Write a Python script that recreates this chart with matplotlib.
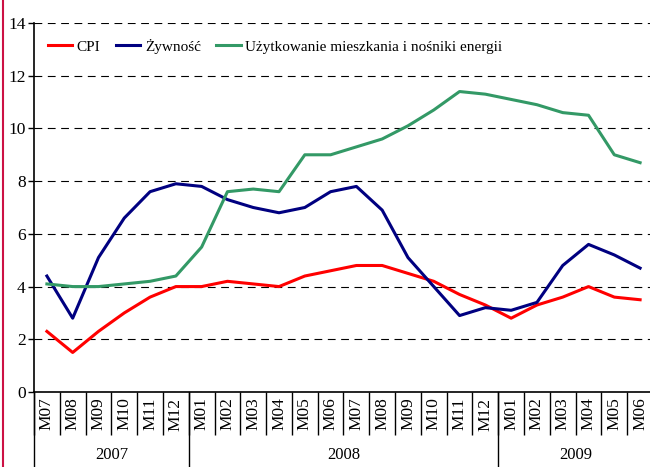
import matplotlib.pyplot as plt
from matplotlib.lines import Line2D

months = ["M07", "M08", "M09", "M10", "M11", "M12",
          "M01", "M02", "M03", "M04", "M05", "M06", "M07", "M08", "M09", "M10", "M11", "M12",
          "M01", "M02", "M03", "M04", "M05", "M06"]
years = ["2007", "2008", "2009"]
year_spans = [(0, 6), (6, 18), (18, 24)]

cpi = [2.3, 1.5, 2.3, 3.0, 3.6, 4.0,
       4.0, 4.2, 4.1, 4.0, 4.4, 4.6, 4.8, 4.8, 4.5, 4.2, 3.7, 3.3,
       2.8, 3.3, 3.6, 4.0, 3.6, 3.5]
zywnosc = [4.4, 2.8, 5.1, 6.6, 7.6, 7.9,
           7.8, 7.3, 7.0, 6.8, 7.0, 7.6, 7.8, 6.9, 5.1, 4.0, 2.9, 3.2,
           3.1, 3.4, 4.8, 5.6, 5.2, 4.7]
mieszkanie = [4.1, 4.0, 4.0, 4.1, 4.2, 4.4,
              5.5, 7.6, 7.7, 7.6, 9.0, 9.0, 9.3, 9.6, 10.1, 10.7, 11.4, 11.3,
              11.1, 10.9, 10.6, 10.5, 9.0, 8.7]

plt.rcParams['font.family'] = ['Liberation Serif', 'DejaVu Serif']

fig = plt.figure(figsize=(6.5, 4.67), dpi=100)
ax = fig.add_axes([34 / 650, 75 / 467, 619 / 650, 369 / 467])

x = list(range(len(months)))
ax.plot(x, cpi, color="#ff0000", lw=2.2, label="CPI")
ax.plot(x, zywnosc, color="#000080", lw=2.2, label="Żywność")
ax.plot(x, mieszkanie, color="#339966", lw=2.2, label="Użytkowanie mieszkania i nośniki energii")

ax.set_ylim(0, 14)
ax.set_xlim(-0.5, len(months) - 0.5)
ax.set_yticks(range(0, 15, 2))
ax.yaxis.grid(True, color="black", linestyle=(0, (7, 5)), lw=0.8)
ax.set_axisbelow(True)
for s in ["top", "right"]:
    ax.spines[s].set_visible(False)
ax.spines["left"].set_linewidth(1.2)
ax.spines["bottom"].set_linewidth(1.2)
ax.tick_params(axis="y", length=4, width=1, labelsize=12.5, pad=2)

ax.set_xticks(x)
ax.set_xticklabels(months, rotation=90, fontsize=12.5)
ax.tick_params(axis="x", which="major", length=0, pad=4)
ax.set_xticks([i - 0.5 for i in range(len(months) + 1)], minor=True)
ax.tick_params(axis="x", which="minor", length=31, width=1)

tr = ax.get_xaxis_transform()
for (a, b), yr in zip(year_spans, years):
    ax.plot([a - 0.5, a - 0.5], [0, -0.21], color="black", lw=1, transform=tr, clip_on=False)
    ax.text((a + b - 1) / 2, -0.17, yr, transform=tr, ha="center", va="center", fontsize=12)

ax.legend(loc="upper left", bbox_to_anchor=(0.0, 0.995), ncol=3, frameon=False,
          fontsize=11, handlelength=1.6, handletextpad=0.3, columnspacing=1.0)

fig.add_artist(Line2D([3 / 650, 3 / 650], [0, 1], color="#cc1144", lw=1.5))

fig.savefig("out.png")
